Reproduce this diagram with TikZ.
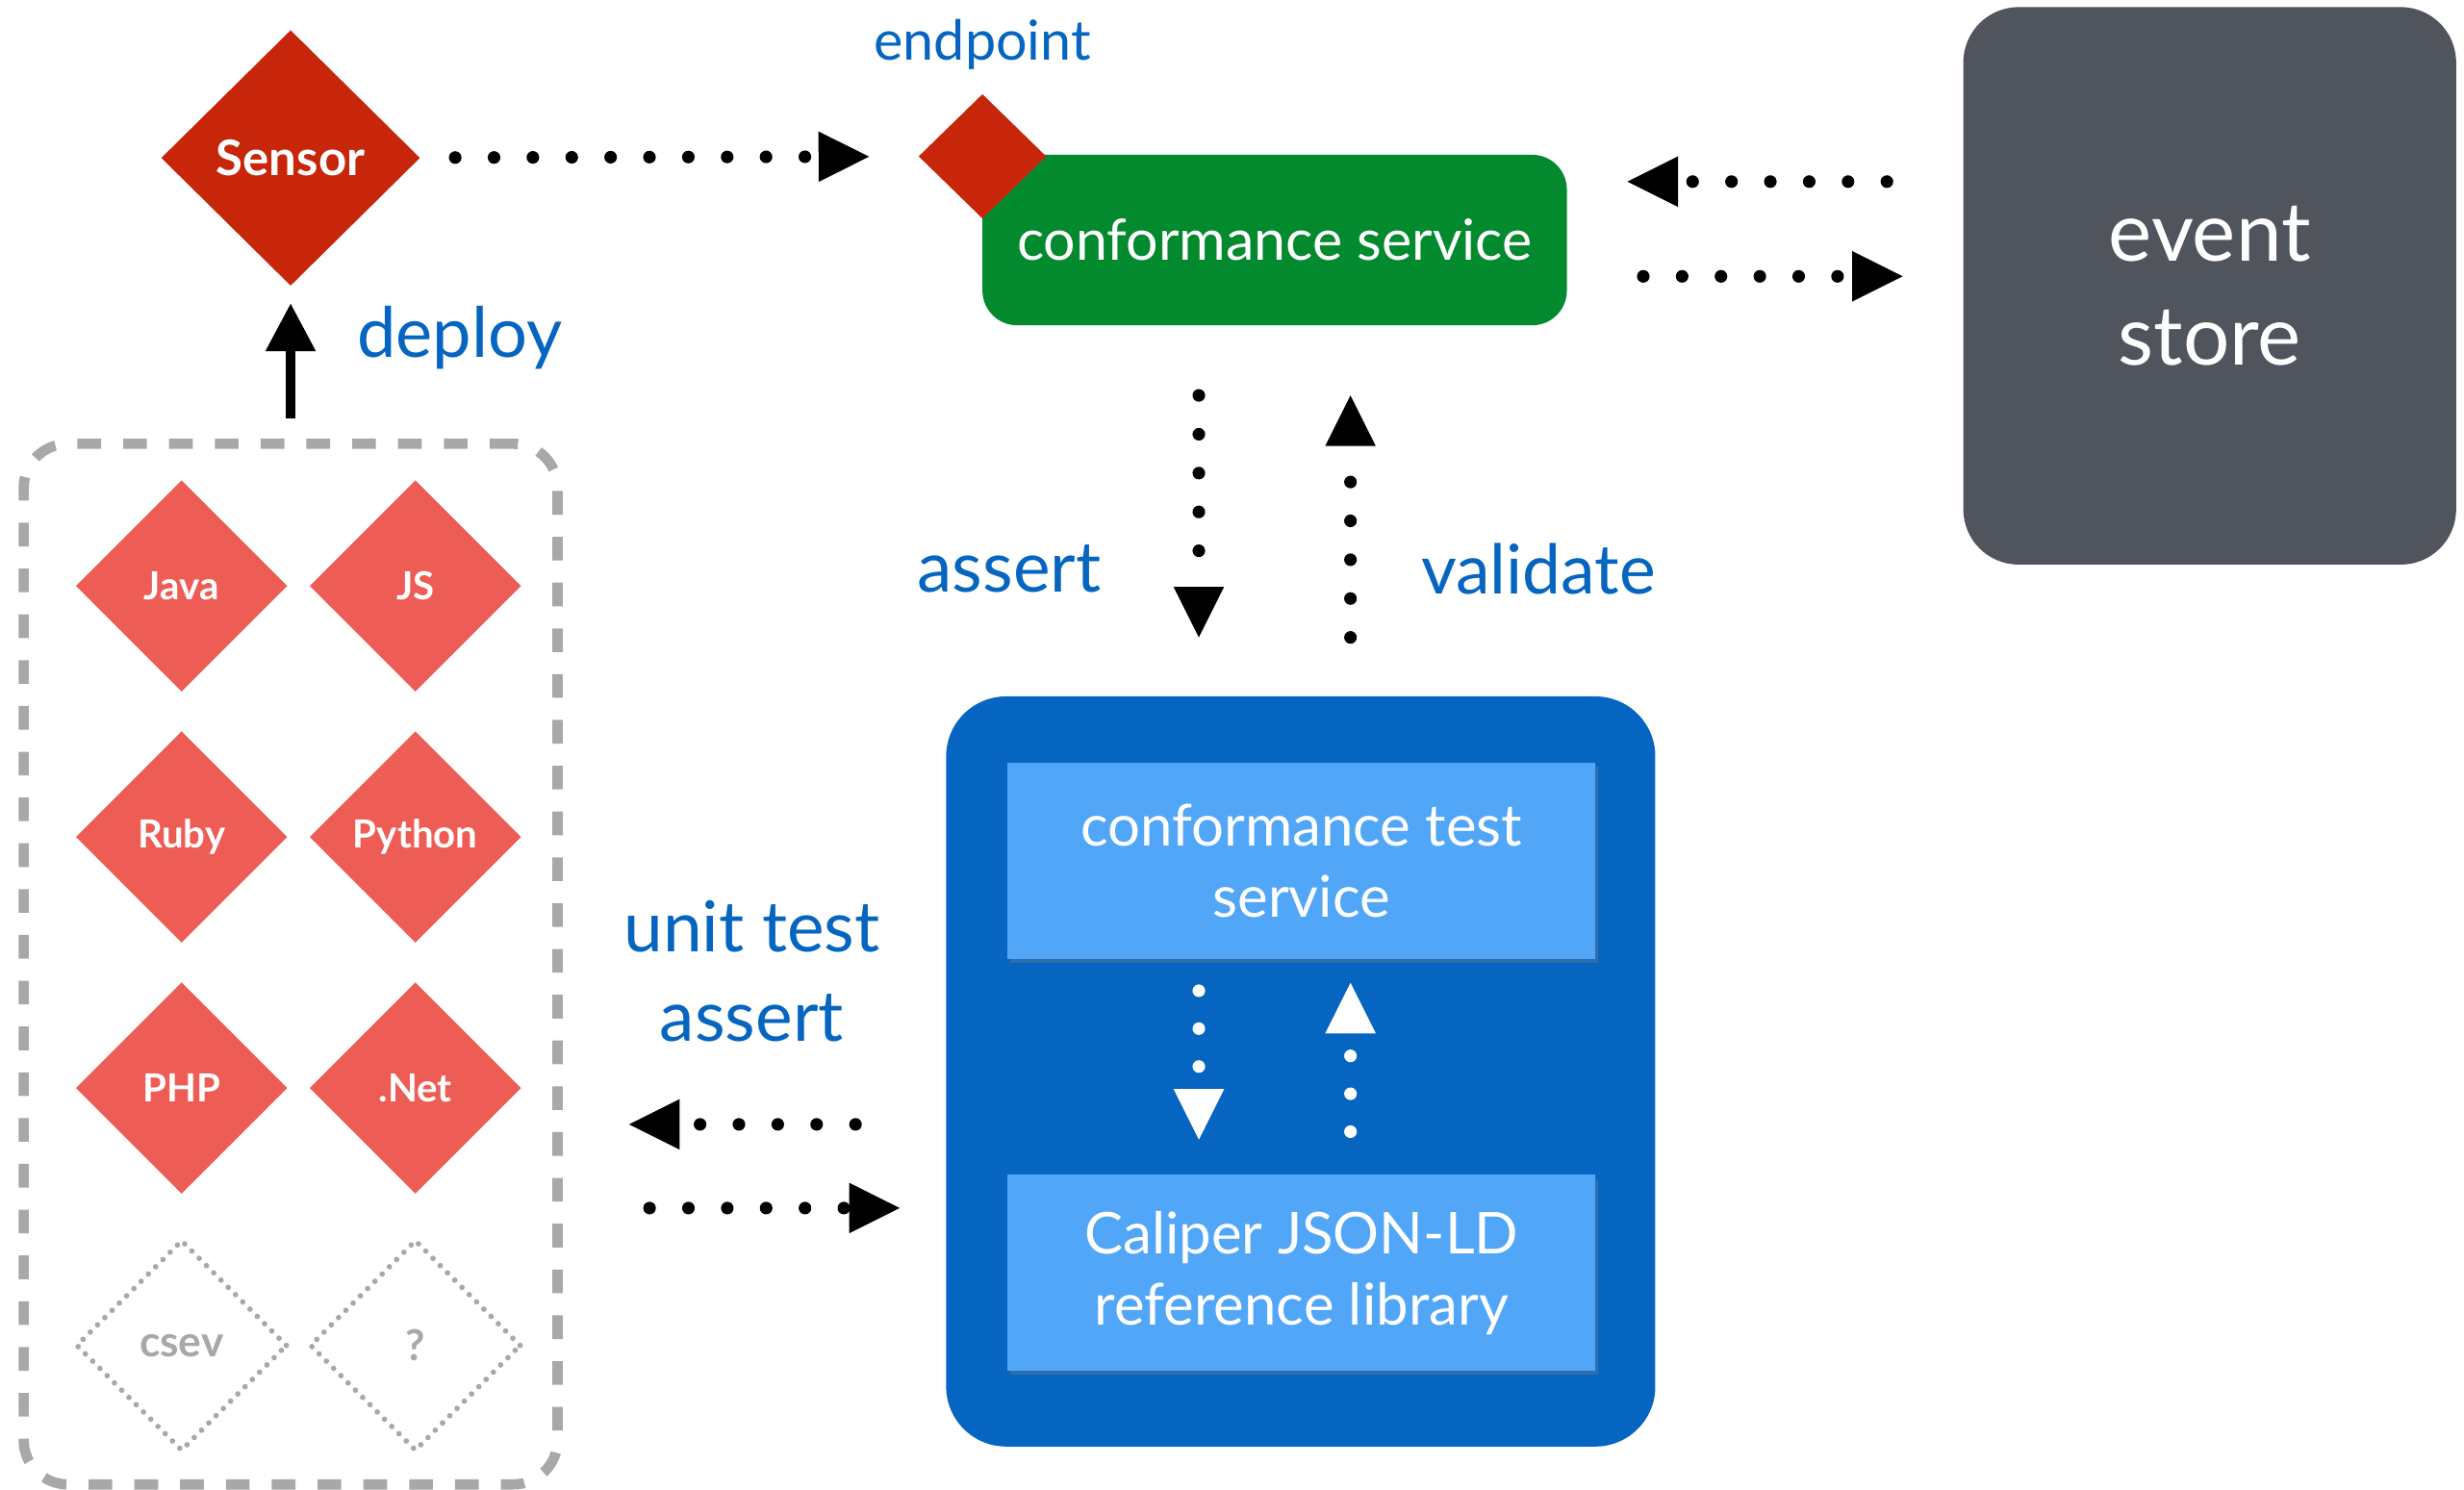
\documentclass[tikz,border=0pt]{standalone}
\usepackage{fontspec}
\setmainfont{Lato}
\usetikzlibrary{shapes.geometric,arrows.meta,calc,shadows}

\definecolor{sensorred}{RGB}{200,38,10}
\definecolor{langred}{RGB}{238,93,85}
\definecolor{csgreen}{RGB}{3,138,46}
\definecolor{storegray}{RGB}{80,84,92}
\definecolor{outerblue}{RGB}{5,101,192}
\definecolor{innerblue}{RGB}{82,166,248}
\definecolor{dashgray}{RGB}{167,169,168}
\definecolor{labelblue}{RGB}{5,101,192}

\tikzset{every picture/.style={line width=0.75pt}}
\tikzset{
  langdiamond/.style={diamond, aspect=1, fill=langred, minimum width=134pt, minimum height=134pt, inner sep=0pt, text=white, font=\fontsize{24.5}{28}\selectfont\bfseries},
  emptydiamond/.style={diamond, aspect=1, draw=dashgray, line width=3.5pt, line cap=round, dash pattern=on 0pt off 6.5pt, minimum width=134pt, minimum height=134pt, inner sep=0pt, text=dashgray, font=\fontsize{27}{30}\selectfont\bfseries},
  bluelabel/.style={text=labelblue, inner sep=0pt, align=center},
  innerbox/.style={rectangle, fill=innerblue, minimum width=372pt, minimum height=124pt, text=white, align=center, font=\fontsize{36.5}{45}\selectfont, drop shadow={opacity=0.35, shadow xshift=1.5pt, shadow yshift=-2.5pt}},
  dotarrow/.style={line width=8pt, line cap=round, dash pattern=on 0pt off 24.6pt, -{Triangle[length=32pt,width=32pt,line width=0pt]}},
  whitearrow/.style={draw=white, line width=8pt, line cap=round, dash pattern=on 0pt off 24pt, -{Triangle[length=32pt,width=32pt,line width=0pt]}},
}

\begin{document}
\begin{tikzpicture}[x=1pt,y=1pt,yscale=-1,xscale=1]
	\useasboundingbox (0,0) rectangle (1560,943.5);

	%Shape: Sensor diamond
	\node[diamond, aspect=1, fill=sensorred, minimum width=164pt, minimum height=162pt, inner sep=0pt, text=white, font=\fontsize{31}{35}\selectfont\bfseries] (sensor) at (184,100) {Sensor};

	%Shape: conformance service box
	\node[rectangle, rounded corners=22pt, fill=csgreen, minimum width=370pt, minimum height=108pt, text=white, font=\fontsize{36}{42}\selectfont] (cs) at (807,152) {conformance service};
	%Shape: endpoint diamond
	\node[diamond, aspect=1, fill=sensorred, minimum width=81pt, minimum height=79pt, inner sep=0pt] (ep) at (622,99) {};
	% Text Node
	\node[bluelabel, font=\fontsize{35}{40}\selectfont] (eplabel) at (622,28) {endpoint};

	%Shape: event store box
	\node[rectangle, rounded corners=35pt, fill=storegray, minimum width=312pt, minimum height=353pt, text=white, align=center, font=\fontsize{52}{66}\selectfont] (es) at (1399,181) {event\\store};

	%Shape: outer blue box
	\node[rectangle, rounded corners=38pt, fill=outerblue, minimum width=449pt, minimum height=475pt] (ob) at (823.5,678.5) {};
	\node[innerbox] (cts) at (824,545) {conformance test\\service};
	\node[innerbox] (lib) at (824,806) {Caliper JSON-LD\\reference library};

	%Shape: dashed library box
	\node[rectangle, rounded corners=28pt, draw=dashgray, line width=6.5pt, dash pattern=on 15pt off 14pt, minimum width=338pt, minimum height=659pt] (langs) at (184,610.5) {};
	\node[langdiamond] (java) at (115,371) {Java};
	\node[langdiamond] (js) at (263,371) {JS};
	\node[langdiamond] (ruby) at (115,530) {Ruby};
	\node[langdiamond] (python) at (263,530) {Python};
	\node[langdiamond] (php) at (115,689) {PHP};
	\node[langdiamond] (dotnet) at (263,689) {.Net};
	\node[emptydiamond] (csev) at (115,852) {csev};
	\node[emptydiamond] (other) at (263,852) {?};

	% Text Node
	\node[bluelabel, font=\fontsize{44}{50}\selectfont] (deploylbl) at (291,214) {deploy};
	% Text Node
	\node[bluelabel, font=\fontsize{44.5}{50}\selectfont] (assertlbl) at (639,360) {assert};
	% Text Node
	\node[bluelabel, font=\fontsize{43.5}{50}\selectfont] (validatelbl) at (974,360) {validate};
	% Text Node
	\node[bluelabel, font=\fontsize{44.5}{57}\selectfont] (unitlbl) at (476,615) {unit test\\assert};

	\coordinate (dn) at (759,0);
	\coordinate (up) at (855,0);
	\coordinate (la) at (0,712);
	\coordinate (ra) at (0,765);

	% Connectors
	\draw[dotarrow, shorten <=22pt, shorten >=31pt] (sensor) -- (ep);
	\draw[dotarrow, shorten <=48pt, shorten >=38pt] ($(es.west)+(0,-66)$) -- ($(cs.east)+(0,-37)$);
	\draw[dotarrow, shorten <=48pt, shorten >=38pt] ($(cs.east)+(0,23)$) -- ($(es.west)+(0,-6)$);
	\draw[dotarrow, shorten <=44pt, shorten >=37pt] (cs.south -| dn) -- (ob.north -| dn);
	\draw[dotarrow, shorten <=37pt, shorten >=44pt] (ob.north -| up) -- (cs.south -| up);
	\draw[whitearrow, shorten <=20pt, shorten >=22pt] (cts.south -| dn) -- (lib.north -| dn);
	\draw[whitearrow, shorten <=27pt, shorten >=15pt] (lib.north -| up) -- (cts.south -| up);
	\draw[dotarrow, shorten <=57pt, shorten >=42pt] (ob.west |- la) -- (langs.east |- la);
	\draw[dotarrow, shorten <=55pt, shorten >=29pt] (langs.east |- ra) -- (ob.west |- ra);
	\draw[line width=6pt, -{Triangle[length=30pt,width=32pt,line width=0pt]}, shorten <=13pt, shorten >=11pt] (langs.north) -- (sensor.south);

\end{tikzpicture}
\end{document}
